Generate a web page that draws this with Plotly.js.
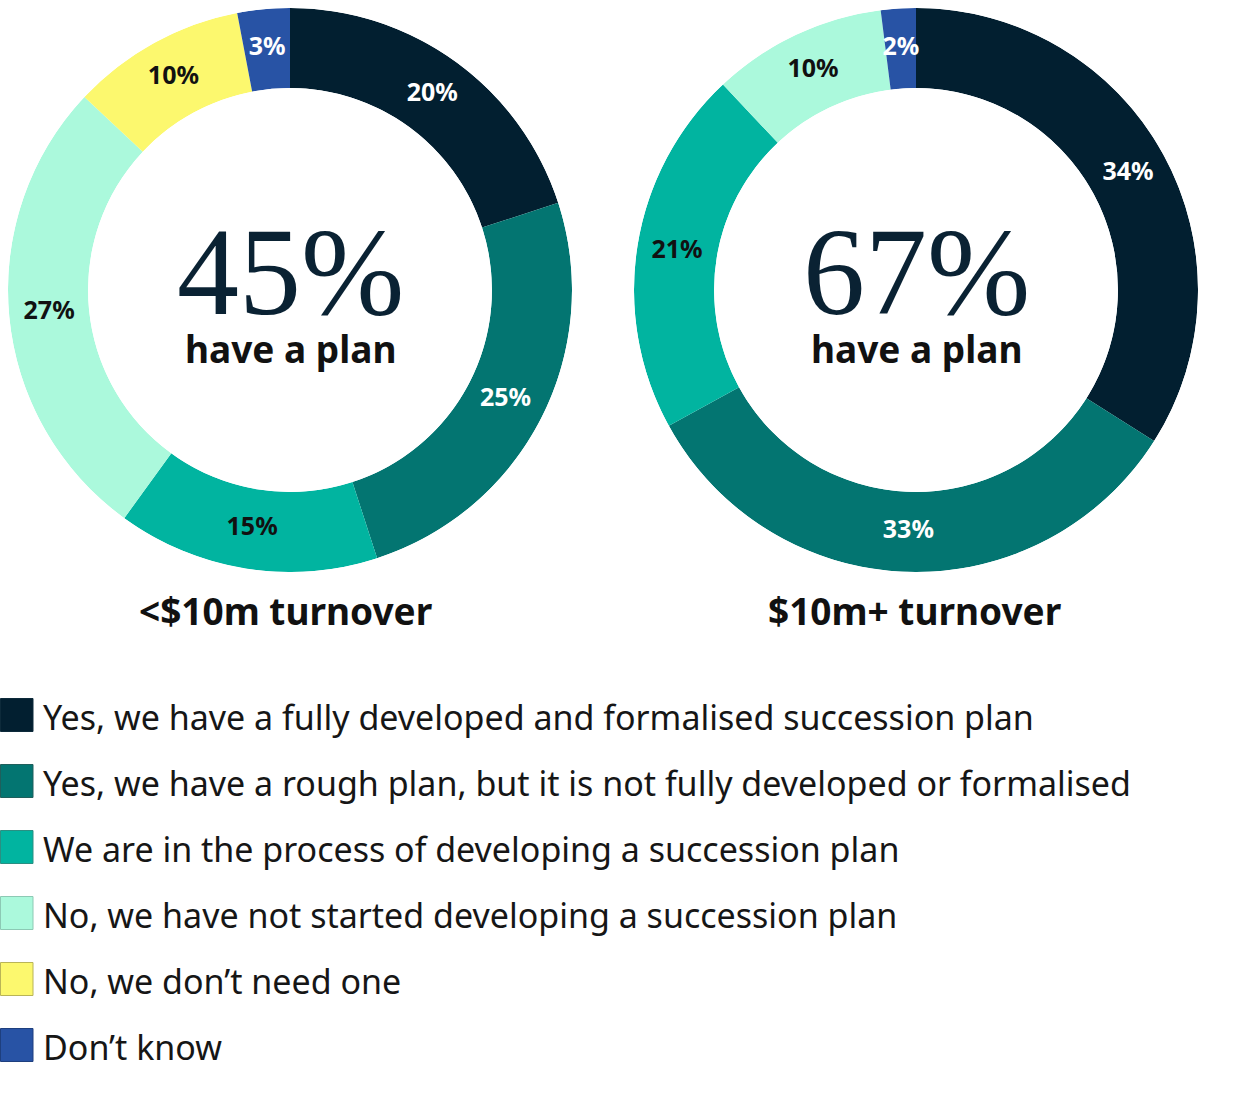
<!DOCTYPE html>
<html>
<head>
<meta charset="utf-8">
<script src="https://cdn.plot.ly/plotly-3.0.1.min.js"></script>
<style>
  html, body { margin: 0; padding: 0; background: #fff; }
  #chart { width: 1246px; height: 1096px; }
</style>
</head>
<body>
<div id="chart"></div>
<script>
// answer categories, same order as legend
const categories = [
  'Yes, we have a fully developed and formalised succession plan',
  'Yes, we have a rough plan, but it is not fully developed or formalised',
  'We are in the process of developing a succession plan',
  'No, we have not started developing a succession plan',
  'No, we don\u2019t need one',
  'Don\u2019t know'
];
const sliceColors = ['#021f30', '#037571', '#01b4a0', '#abf9dc', '#fcf86e', '#2853a5'];
const labelColors = ['#ffffff', '#ffffff', '#111111', '#111111', '#111111', '#ffffff'];
const borderColors = ['#0d2a3a', '#1f5f5c', '#2a8f82', '#8cc9b4', '#b9b457', '#1e3f7e'];

// turnover groups
const groups = ['<$10m turnover', '$10m+ turnover'];
const smallValues = [20, 25, 15, 27, 10, 3];
const largeValues = [34, 33, 21, 10, 0, 2];
const havePlan = ['45%', '67%'];

const W = 1246, H = 1096;
const px = v => v / W;
const py = v => 1 - v / H;

// donut boxes in pixels (left, top, size)
const boxes = [[8, 8, 564], [634, 8, 564]];

// the donuts are drawn as bars on polar axes so the labels can sit mid-ring
function makeDonut(values, subplot) {
  let total = values.reduce((a, b) => a + b, 0);
  let theta = [], width = [], cols = [], tcols = [], names = [], vals = [];
  let cum = 0;
  for (let i in values) {
    let v = values[i];
    if (v > 0) {
      theta.push(360 * (cum + v / 2) / total);
      width.push(360 * v / total);
      cols.push(sliceColors[i]);
      tcols.push(labelColors[i]);
      names.push(categories[i]);
      vals.push(v + '%');
    }
    cum += v;
  }
  let bars = {
    type: 'barpolar',
    subplot: subplot,
    r: theta.map(() => 1),
    theta: theta,
    width: width,
    marker: {color: cols, line: {width: 0}},
    customdata: names,
    text: vals,
    hovertemplate: '%{customdata}: %{text}<extra></extra>',
    showlegend: false
  };
  let labels = {
    type: 'scatterpolar',
    subplot: subplot,
    mode: 'text',
    r: theta.map(() => 0.5),
    theta: theta,
    text: vals,
    textposition: 'middle center',
    textfont: {family: 'Noto Sans, sans-serif', size: 25, color: tcols, weight: 700},
    hoverinfo: 'skip',
    cliponaxis: false,
    showlegend: false
  };
  return [bars, labels];
}

const data = makeDonut(smallValues, 'polar').concat(makeDonut(largeValues, 'polar2'));

function polarLayout(box) {
  return {
    domain: {
      x: [px(box[0]), px(box[0] + box[2])],
      y: [py(box[1] + box[2]), py(box[1])]
    },
    hole: 0.716,
    bgcolor: 'rgba(0,0,0,0)',
    bargap: 0,
    radialaxis: {range: [0, 1], visible: false, showgrid: false, showline: false, showticklabels: false},
    angularaxis: {
      rotation: 90, direction: 'clockwise', visible: false,
      showgrid: false, showline: false, showticklabels: false, ticks: ''
    }
  };
}

let annotations = [];
let shapes = [];
const titleX = [286, 915];

for (let g in groups) {
  let b = boxes[g];
  let cx = px(b[0] + b[2] / 2);
  annotations.push({
    xref: 'paper', yref: 'paper', x: cx, y: py(272), xanchor: 'center', yanchor: 'middle',
    text: havePlan[g], showarrow: false,
    font: {family: 'Liberation Serif, serif', size: 124, color: '#0a2233'}
  });
  annotations.push({
    xref: 'paper', yref: 'paper', x: cx, y: py(348), xanchor: 'center', yanchor: 'middle',
    text: '<b>have a plan</b>', showarrow: false,
    font: {family: 'Noto Sans, sans-serif', size: 37, color: '#111111'}
  });
  annotations.push({
    xref: 'paper', yref: 'paper', x: px(titleX[g]), y: py(610), xanchor: 'center', yanchor: 'middle',
    text: '<b>' + groups[g].replace('<', '&lt;') + '</b>', showarrow: false,
    font: {family: 'Noto Sans, sans-serif', size: 37, color: '#111111'}
  });
}

// legend drawn by hand so the swatches can be large
for (let i in categories) {
  let yc = 715 + 66 * i;
  shapes.push({
    type: 'rect', xref: 'paper', yref: 'paper',
    x0: px(0.5), x1: px(33), y0: py(yc - 16.5), y1: py(yc + 16.5),
    fillcolor: sliceColors[i], line: {color: borderColors[i], width: 1}
  });
  annotations.push({
    xref: 'paper', yref: 'paper', x: px(41), y: py(yc + 2), xanchor: 'left', yanchor: 'middle',
    text: categories[i], showarrow: false,
    font: {family: 'Noto Sans, sans-serif', size: 34, color: '#161616'}
  });
}

const layout = {
  width: W,
  height: H,
  margin: {l: 0, r: 0, t: 0, b: 0},
  paper_bgcolor: '#ffffff',
  polar: polarLayout(boxes[0]),
  polar2: polarLayout(boxes[1]),
  annotations: annotations,
  shapes: shapes
};

Plotly.newPlot('chart', data, layout, {displayModeBar: false});
</script>
</body>
</html>
